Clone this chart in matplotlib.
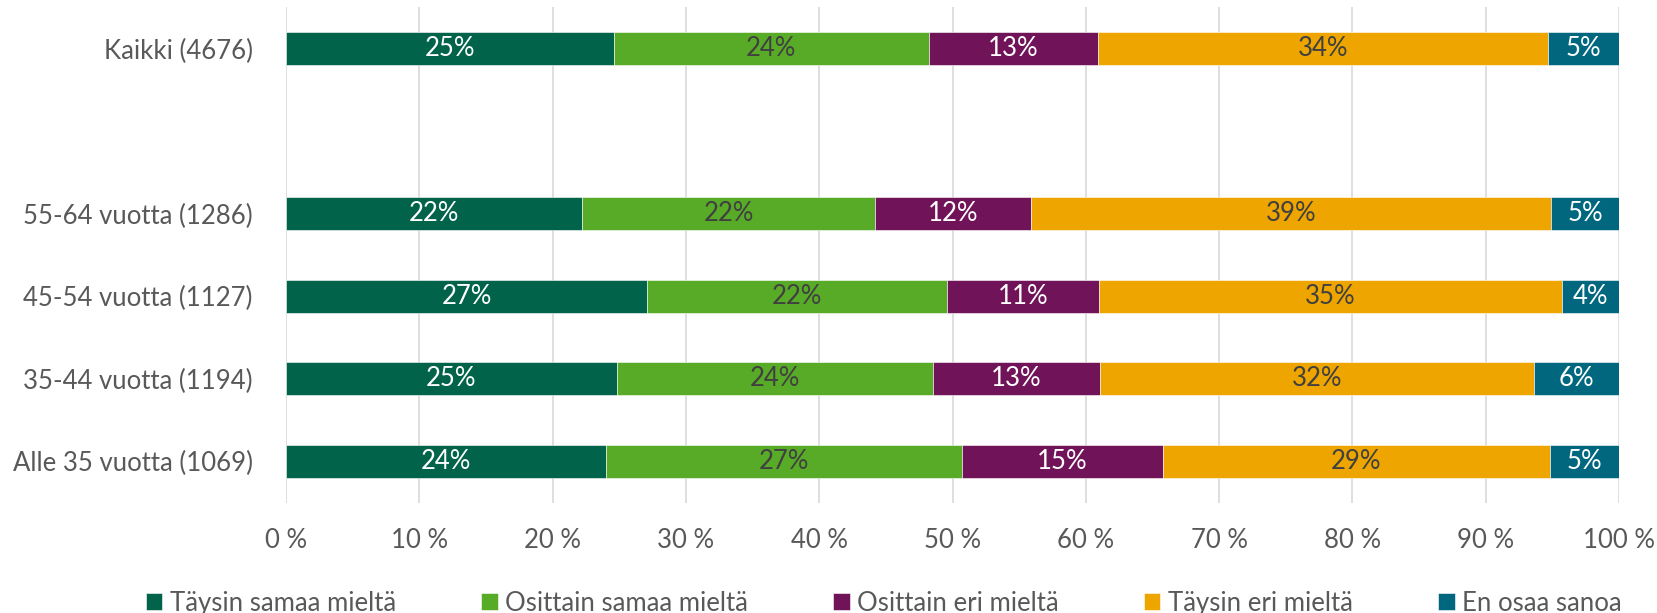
import matplotlib.pyplot as plt
import numpy as np

plt.rcParams['font.family'] = ['Lato', 'DejaVu Sans']

groups = ["Alle 35 vuotta (1069)", "35-44 vuotta (1194)", "45-54 vuotta (1127)",
          "55-64 vuotta (1286)", "", "Kaikki (4676)"]
series = ["Täysin samaa mieltä", "Osittain samaa mieltä", "Osittain eri mieltä",
          "Täysin eri mieltä", "En osaa sanoa"]
# shares in percent, one list per answer, in the order of groups (blank row = None)
taysin_samaa = [24.0, 24.8, 27.1, 22.2, None, 24.6]
osittain_samaa = [26.7, 23.7, 22.5, 22.0, None, 23.6]
osittain_eri = [15.1, 12.6, 11.4, 11.7, None, 12.7]
taysin_eri = [29.0, 32.5, 34.7, 39.0, None, 33.8]
en_osaa = [5.2, 6.4, 4.3, 5.1, None, 5.3]

colors = ["#00634A", "#58AB27", "#701358", "#EEA500", "#00677F"]
text_colors = ["white", "#404040", "white", "#404040", "white"]

data = [taysin_samaa, osittain_samaa, osittain_eri, taysin_eri, en_osaa]

fig = plt.figure(figsize=(16.58, 6.13), dpi=100)
ax = fig.add_axes([0.1725, 0.18, 0.804, 0.808])

y = np.arange(len(groups))
keep = np.array([x is not None for x in taysin_samaa])
left = np.zeros(len(groups))
for s_id, vals in enumerate(data):
    v = np.array([0 if x is None else x for x in vals], dtype=float)
    ax.barh(y[keep], v[keep], left=left[keep], height=0.4, color=colors[s_id], label=series[s_id],
            edgecolor="white", linewidth=0.4, zorder=3)
    for i, val in enumerate(v):
        if val > 0:
            ax.text(left[i] + val / 2, y[i], f"{round(val):.0f}%", ha="center", va="center",
                    color=text_colors[s_id], fontsize=18.5, zorder=4)
    left += v

ax.set_xlim(0, 100)
ax.set_ylim(-0.5, 5.5)
ax.set_xticks(np.arange(0, 101, 10))
ax.set_xticklabels([f"{t} %" for t in range(0, 101, 10)])
ax.set_yticks(y)
ax.set_yticklabels(groups)
ax.tick_params(axis="both", length=0, labelsize=18.5, labelcolor="#595959")
ax.tick_params(axis="x", pad=18)
ax.tick_params(axis="y", pad=24)
ax.grid(axis="x", color="#D9D9D9", linewidth=1.2, zorder=0)
for sp in ax.spines.values():
    sp.set_visible(False)

handles, labels = ax.get_legend_handles_labels()
leg = fig.legend(handles, labels, loc="lower center", bbox_to_anchor=(0.533, -0.042), ncol=5,
                 frameon=False, fontsize=18.5, handlelength=0.65, handleheight=0.65,
                 handletextpad=0.3, columnspacing=3.3)
for t in leg.get_texts():
    t.set_color("#595959")

plt.savefig("out.png")
plt.close()
